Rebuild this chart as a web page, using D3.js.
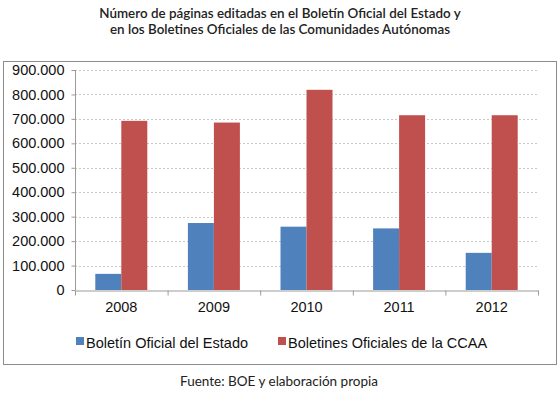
<!DOCTYPE html>
<html>
<head>
<meta charset="utf-8">
<script src="https://cdn.jsdelivr.net/npm/d3@7"></script>
<style>
  body { margin: 0; background: #fff; }
  svg { display: block; }
</style>
</head>
<body>
<div id="chart"></div>
<script>
const years = ["2008", "2009", "2010", "2011", "2012"];
const boe = [66000, 274000, 259000, 252000, 152000];
const ccaa = [692000, 685000, 819000, 715000, 715000];
const seriesNames = ["Boletín Oficial del Estado", "Boletines Oficiales de la CCAA"];
const yTicks = [0, 100000, 200000, 300000, 400000, 500000, 600000, 700000, 800000, 900000];
const titleLines = [
  "Número de páginas editadas en el Boletín Oficial del Estado y",
  "en los Boletines Oficiales de las Comunidades Autónomas"
];
const source = "Fuente: BOE y elaboración propia";

const colors = ["#4F81BD", "#C0504D"];
const W = 560, H = 396;
const plot = { left: 75, right: 538, top: 70, bottom: 290 };

const svg = d3.select("#chart").append("svg")
  .attr("width", W).attr("height", H);

// title
svg.append("g").selectAll("text")
  .data(titleLines).enter().append("text")
  .attr("x", 280)
  .attr("y", (d, i) => 18 + i * 16)
  .attr("text-anchor", "middle")
  .style("font-family", "'Lato', 'Noto Sans', sans-serif")
  .style("font-size", "13.4px")
  .style("font-weight", "600")
  .style("fill", "#222")
  .text(d => d);

// frame
svg.append("rect")
  .attr("x", 3.5).attr("y", 61.5)
  .attr("width", 553).attr("height", 303)
  .attr("fill", "none")
  .attr("stroke", "#8c8c8c")
  .attr("stroke-width", 1);

const x = d3.scaleBand().domain(years).range([plot.left, plot.right]);
const y = d3.scaleLinear().domain([0, 900000]).range([plot.bottom, plot.top]);
const barW = 26;

// gridlines
svg.append("g").selectAll("line")
  .data(yTicks.filter(t => t > 0)).enter().append("line")
  .attr("x1", plot.left).attr("x2", plot.right)
  .attr("y1", d => Math.round(y(d)) + 0.5)
  .attr("y2", d => Math.round(y(d)) + 0.5)
  .attr("stroke", "#c8c8c8")
  .attr("stroke-dasharray", "2,2");

// y axis
const fmt = d3.formatLocale({ decimal: ",", thousands: ".", grouping: [3], currency: ["", ""] }).format(",");
const yAxis = svg.append("g")
  .attr("transform", `translate(${plot.left + 0.5},0)`)
  .call(d3.axisLeft(y).tickValues(yTicks).tickFormat(fmt).tickSize(4).tickPadding(7));
yAxis.select(".domain").attr("stroke", "#9a9a9a").attr("d", `M0,${plot.top}V${plot.bottom}`);
yAxis.selectAll(".tick line").attr("stroke", "#9a9a9a");
yAxis.selectAll(".tick text")
  .style("font-family", "'Liberation Sans', Arial, sans-serif")
  .style("font-size", "14.5px")
  .style("fill", "#111");

// x axis
const xAxis = svg.append("g")
  .attr("transform", `translate(0,${plot.bottom + 0.5})`)
  .call(d3.axisBottom(x).tickSize(0).tickPadding(11));
xAxis.select(".domain").attr("stroke", "#9a9a9a");
xAxis.selectAll(".tick text")
  .style("font-family", "'Liberation Sans', Arial, sans-serif")
  .style("font-size", "14.5px")
  .style("fill", "#111");
// category separators
xAxis.append("g").selectAll("line")
  .data(years.concat(["end"])).enter().append("line")
  .attr("x1", (d, i) => plot.left + i * x.bandwidth() + 0.5)
  .attr("x2", (d, i) => plot.left + i * x.bandwidth() + 0.5)
  .attr("y1", 0).attr("y2", 5)
  .attr("stroke", "#9a9a9a");

// bars
const series = [boe, ccaa];
series.forEach((vals, s) => {
  svg.append("g").selectAll("rect")
    .data(vals).enter().append("rect")
    .attr("x", (d, i) => x(years[i]) + x.bandwidth() / 2 - barW + s * barW)
    .attr("y", d => y(d))
    .attr("width", barW)
    .attr("height", d => y(0) - y(d))
    .attr("fill", colors[s]);
});

// legend
const legendX = [76, 278];
const legend = svg.append("g").selectAll("g")
  .data(seriesNames).enter().append("g")
  .attr("transform", (d, i) => `translate(${legendX[i]},337)`);
legend.append("rect")
  .attr("width", 8).attr("height", 8)
  .attr("fill", (d, i) => colors[i]);
legend.append("text")
  .attr("x", 10).attr("y", 10.5)
  .style("font-family", "'Liberation Sans', Arial, sans-serif")
  .style("font-size", "14.5px")
  .style("fill", "#111")
  .text(d => d);

// source
svg.append("text")
  .attr("x", 279).attr("y", 386)
  .attr("text-anchor", "middle")
  .style("font-family", "'Lato', 'Noto Sans', sans-serif")
  .style("font-size", "13.5px")
  .style("fill", "#222")
  .text(source);
</script>
</body>
</html>
